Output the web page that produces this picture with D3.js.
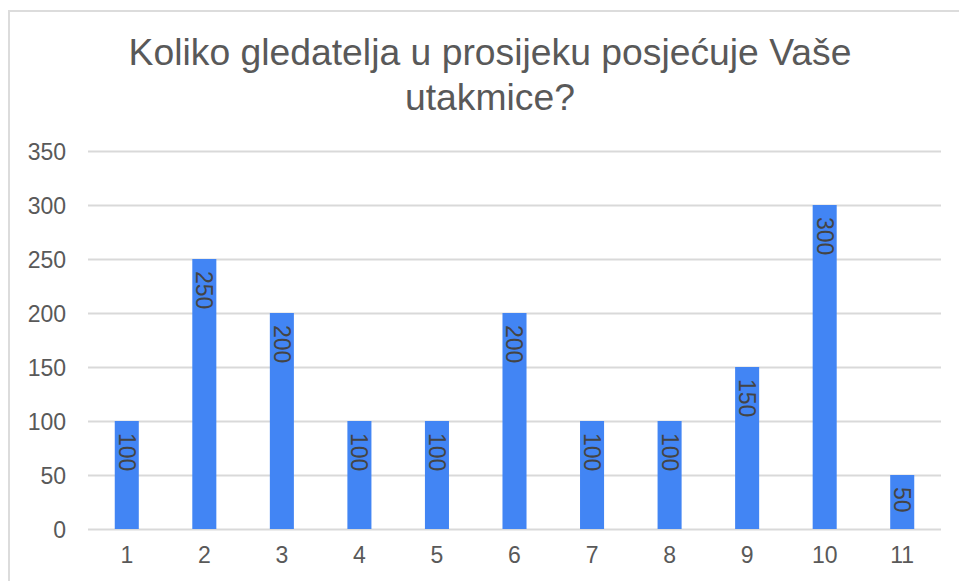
<!DOCTYPE html>
<html>
<head>
<meta charset="utf-8">
<script src="https://cdn.jsdelivr.net/npm/d3@7"></script>
<style>
  html, body { margin: 0; padding: 0; background: #fff; }
  svg { display: block; font-family: "Liberation Sans", Arial, sans-serif; }
</style>
</head>
<body>
<svg id="chart" width="959" height="581"></svg>
<script>
const titleLines = ["Koliko gledatelja u prosijeku posjećuje Vaše", "utakmice?"];
const categories = ["1", "2", "3", "4", "5", "6", "7", "8", "9", "10", "11"];
const values = [100, 250, 200, 100, 100, 200, 100, 100, 150, 300, 50];
const yTicks = [0, 50, 100, 150, 200, 250, 300, 350];

const svg = d3.select("#chart");
const W = 959, H = 581;
const margin = { left: 88, right: 18, top: 151, bottom: 52 };

svg.append("rect").attr("width", W).attr("height", H).attr("fill", "#fff");

// frame (partial border)
svg.append("line").attr("x1", 8).attr("x2", W).attr("y1", 11).attr("y2", 11)
  .attr("stroke", "#dcdcdc").attr("stroke-width", 2);
svg.append("line").attr("x1", 9).attr("x2", 9).attr("y1", 10).attr("y2", H)
  .attr("stroke", "#dcdcdc").attr("stroke-width", 2);

const x = d3.scaleBand().domain(categories)
  .range([margin.left, W - margin.right]).paddingInner(0.69).paddingOuter(0.345);
const y = d3.scaleLinear().domain([0, 350]).range([H - margin.bottom, margin.top]);

// title
const title = svg.append("text").attr("text-anchor", "middle")
  .attr("fill", "#595959").attr("font-size", 37.3);
titleLines.forEach((t, i) => {
  title.append("tspan").attr("x", 490).attr("y", 65 + i * 45).text(t);
});

// gridlines
const yAxis = d3.axisLeft(y).tickValues(yTicks).tickSize(-(W - margin.right - margin.left)).tickPadding(22);
const gy = svg.append("g").attr("transform", `translate(${margin.left},0)`).call(yAxis);
gy.select(".domain").remove();
gy.selectAll(".tick line").attr("stroke", "#d9d9d9").attr("stroke-width", 2);
gy.selectAll(".tick text").attr("fill", "#595959").attr("font-size", 23)
  .attr("font-family", "Liberation Sans, Arial, sans-serif").attr("dy", "0.35em");

// x axis labels
const xAxis = d3.axisBottom(x).tickSize(0).tickPadding(18);
const gx = svg.append("g").attr("transform", `translate(0,${H - margin.bottom})`).call(xAxis);
gx.select(".domain").remove();
gx.selectAll(".tick text").attr("fill", "#595959").attr("font-size", 23)
  .attr("font-family", "Liberation Sans, Arial, sans-serif");

// bars
svg.append("g").selectAll("rect").data(values).join("rect")
  .attr("x", (d, i) => x(categories[i]))
  .attr("y", d => y(d))
  .attr("width", x.bandwidth())
  .attr("height", d => y(0) - y(d))
  .attr("fill", "#4285F4");

// value labels (rotated)
svg.append("g").selectAll("text").data(values).join("text")
  .attr("transform", (d, i) => `translate(${x(categories[i]) + x.bandwidth() / 2},${y(d) + 12}) rotate(90)`)
  .attr("dy", "0.35em")
  .attr("text-anchor", "start")
  .attr("fill", "#444")
  .attr("font-size", 23)
  .text(d => d);
</script>
</body>
</html>
